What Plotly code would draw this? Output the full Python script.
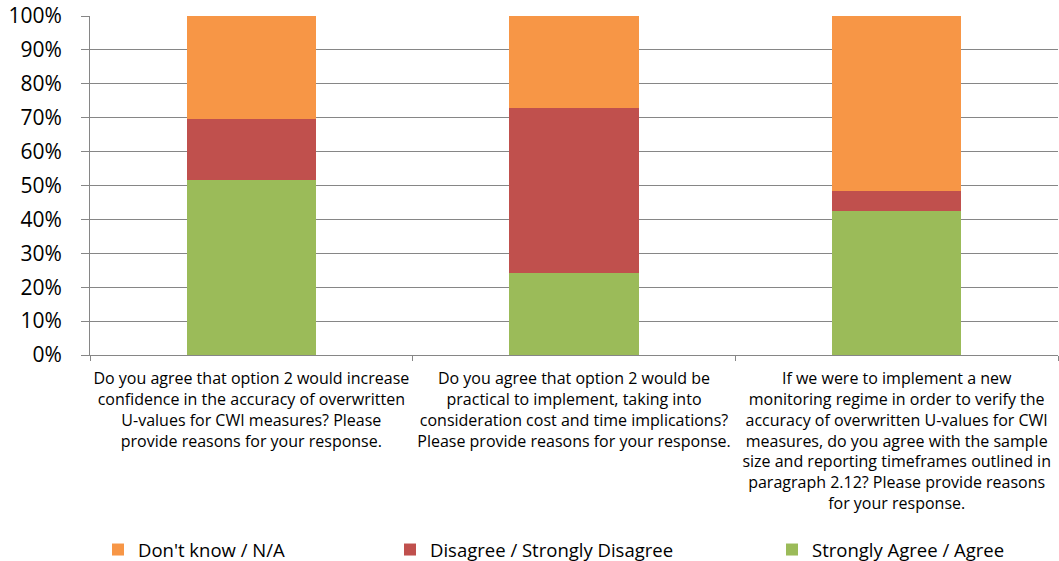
import plotly.graph_objects as go

categories = [
    "Do you agree that option 2 would increase confidence in the accuracy of overwritten U-values for CWI measures? Please provide reasons for your response.",
    "Do you agree that option 2 would be practical to implement, taking into consideration cost and time implications? Please provide reasons for your response.",
    "If we were to implement a new monitoring regime in order to verify the accuracy of overwritten U-values for CWI measures, do you agree with the sample size and reporting timeframes outlined in paragraph 2.12? Please provide reasons for your response.",
]
tick_labels = [
    "Do you agree that option 2 would increase<br>confidence in the accuracy of overwritten<br>U-values for CWI measures? Please<br>provide reasons for your response.",
    "Do you agree that option 2 would be<br>practical to implement, taking into<br>consideration cost and time implications?<br>Please provide reasons for your response.",
    "If we were to implement a new<br>monitoring regime in order to verify the<br>accuracy of overwritten U-values for CWI<br>measures, do you agree with the sample<br>size and reporting timeframes outlined in<br>paragraph 2.12? Please provide reasons<br>for your response.",
]
agree = [0.515, 0.243, 0.424]
disagree = [0.182, 0.485, 0.061]
dont_know = [0.303, 0.273, 0.515]

FONT = "Open Sans"
fig = go.Figure()
fig.add_trace(go.Bar(x=categories, y=agree, name="Strongly Agree / Agree",
                     marker=dict(color="#9BBB59", line=dict(width=0)), legend="legend3"))
fig.add_trace(go.Bar(x=categories, y=disagree, name="Disagree / Strongly Disagree",
                     marker=dict(color="#C0504D", line=dict(width=0)), legend="legend2"))
fig.add_trace(go.Bar(x=categories, y=dont_know, name="Don't know / N/A",
                     marker=dict(color="#F79646", line=dict(width=0)), legend="legend"))

PL, PW, PT, PH = 90, 968, 16, 339
leg_common = dict(orientation="h", yanchor="middle", y=-(550 - (PT + PH)) / PH,
                  xref="paper", xanchor="left",
                  font=dict(family=FONT, size=18.5, color="#000000"),
                  bgcolor="rgba(0,0,0,0)", itemwidth=30)

fig.update_layout(
    barmode="stack",
    bargap=0.6,
    width=1059, height=561,
    margin=dict(l=PL, r=1059 - PL - PW, t=PT, b=561 - PT - PH, autoexpand=False),
    plot_bgcolor="white", paper_bgcolor="white",
    font=dict(family=FONT, color="#000000"),
    showlegend=True,
    legend=dict(leg_common, x=(98 - PL) / PW),
    legend2=dict(leg_common, x=(390 - PL) / PW),
    legend3=dict(leg_common, x=(772 - PL) / PW),
    xaxis=dict(
        tickmode="array", tickvals=categories, ticktext=tick_labels,
        tickson="boundaries", ticks="outside", ticklen=5, tickcolor="#868686",
        showline=True, linecolor="#868686", linewidth=1,
        tickfont=dict(family=FONT, size=16, color="#000000"),
        showgrid=False, tickangle=0, automargin=False, ticklabelstandoff=9,
        ticklabeloverflow="allow",
    ),
    yaxis=dict(
        range=[0, 1], tickvals=[i / 10 for i in range(11)], tickformat=".0%",
        ticks="outside", ticklen=8, tickcolor="#868686",
        showline=True, linecolor="#868686", linewidth=1,
        showgrid=True, gridcolor="#868686", gridwidth=1,
        tickfont=dict(family=FONT, size=21, color="#000000"),
        zeroline=False, automargin=False, ticklabelstandoff=15,
        ticklabeloverflow="allow",
    ),
)

fig.write_html("out.html")
